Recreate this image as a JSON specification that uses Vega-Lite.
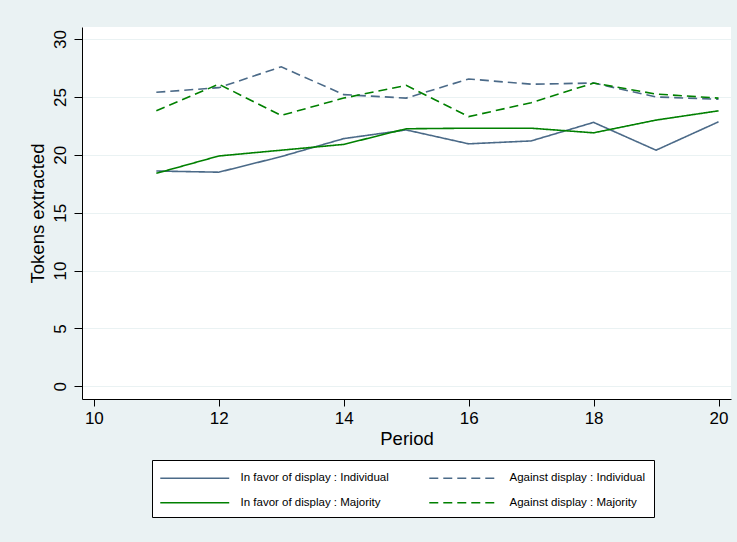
{
  "$schema": "https://vega.github.io/schema/vega-lite/v6.json",
  "width": 649,
  "height": 372,
  "autosize": {"type": "none"},
  "padding": {"left": 82, "top": 27, "right": 6, "bottom": 143},
  "background": "#EAF2F3",
  "config": {
    "view": {"stroke": null, "fill": "white"},
    "font": "Liberation Sans",
    "axis": {
      "domainColor": "#000000",
      "domainWidth": 1,
      "tickColor": "#000000",
      "tickSize": 7,
      "tickWidth": 1,
      "labelColor": "#000000",
      "titleColor": "#000000",
      "labelFont": "Liberation Sans",
      "titleFont": "Liberation Sans",
      "labelFontSize": 17,
      "titleFontSize": 18.5,
      "titleFontWeight": "normal",
      "gridColor": "#EAF2F3",
      "gridWidth": 1.2
    }
  },
  "data": {
    "values": [
      {"period": 11, "series": "In favor of display : Individual", "tokens": 18.6},
      {"period": 12, "series": "In favor of display : Individual", "tokens": 18.5},
      {"period": 13, "series": "In favor of display : Individual", "tokens": 19.85},
      {"period": 14, "series": "In favor of display : Individual", "tokens": 21.4},
      {"period": 15, "series": "In favor of display : Individual", "tokens": 22.15},
      {"period": 16, "series": "In favor of display : Individual", "tokens": 20.95},
      {"period": 17, "series": "In favor of display : Individual", "tokens": 21.2},
      {"period": 18, "series": "In favor of display : Individual", "tokens": 22.8},
      {"period": 19, "series": "In favor of display : Individual", "tokens": 20.4},
      {"period": 20, "series": "In favor of display : Individual", "tokens": 22.85},

      {"period": 11, "series": "In favor of display : Majority", "tokens": 18.4},
      {"period": 12, "series": "In favor of display : Majority", "tokens": 19.9},
      {"period": 13, "series": "In favor of display : Majority", "tokens": 20.4},
      {"period": 14, "series": "In favor of display : Majority", "tokens": 20.9},
      {"period": 15, "series": "In favor of display : Majority", "tokens": 22.25},
      {"period": 16, "series": "In favor of display : Majority", "tokens": 22.3},
      {"period": 17, "series": "In favor of display : Majority", "tokens": 22.3},
      {"period": 18, "series": "In favor of display : Majority", "tokens": 21.9},
      {"period": 19, "series": "In favor of display : Majority", "tokens": 23.0},
      {"period": 20, "series": "In favor of display : Majority", "tokens": 23.8},

      {"period": 11, "series": "Against display : Individual", "tokens": 25.4},
      {"period": 12, "series": "Against display : Individual", "tokens": 25.8},
      {"period": 13, "series": "Against display : Individual", "tokens": 27.6},
      {"period": 14, "series": "Against display : Individual", "tokens": 25.2},
      {"period": 15, "series": "Against display : Individual", "tokens": 24.9},
      {"period": 16, "series": "Against display : Individual", "tokens": 26.55},
      {"period": 17, "series": "Against display : Individual", "tokens": 26.1},
      {"period": 18, "series": "Against display : Individual", "tokens": 26.2},
      {"period": 19, "series": "Against display : Individual", "tokens": 25.0},
      {"period": 20, "series": "Against display : Individual", "tokens": 24.8},

      {"period": 11, "series": "Against display : Majority", "tokens": 23.8},
      {"period": 12, "series": "Against display : Majority", "tokens": 26.1},
      {"period": 13, "series": "Against display : Majority", "tokens": 23.4},
      {"period": 14, "series": "Against display : Majority", "tokens": 24.9},
      {"period": 15, "series": "Against display : Majority", "tokens": 26.0},
      {"period": 16, "series": "Against display : Majority", "tokens": 23.3},
      {"period": 17, "series": "Against display : Majority", "tokens": 24.5},
      {"period": 18, "series": "Against display : Majority", "tokens": 26.2},
      {"period": 19, "series": "Against display : Majority", "tokens": 25.25},
      {"period": 20, "series": "Against display : Majority", "tokens": 24.9}
    ]
  },
  "mark": {"type": "line", "strokeWidth": 1.6},
  "encoding": {
    "x": {
      "field": "period",
      "type": "quantitative",
      "scale": {"domain": [9.81, 20.2], "nice": false, "zero": false},
      "axis": {
        "values": [10, 12, 14, 16, 18, 20],
        "title": "Period",
        "grid": false,
        "labelPadding": 4,
        "titlePadding": 3
      }
    },
    "y": {
      "field": "tokens",
      "type": "quantitative",
      "scale": {"domain": [-1.09, 31.04], "nice": false, "zero": false},
      "axis": {
        "values": [0, 5, 10, 15, 20, 25, 30],
        "title": "Tokens extracted",
        "grid": true,
        "tickSize": 8,
        "labelAngle": 270,
        "labelAlign": "center",
        "labelBaseline": "bottom",
        "labelPadding": 5,
        "titlePadding": 4
      }
    },
    "color": {
      "field": "series",
      "type": "nominal",
      "sort": ["In favor of display : Individual", "Against display : Individual", "In favor of display : Majority", "Against display : Majority"],
      "scale": {
        "domain": ["In favor of display : Individual", "Against display : Individual", "In favor of display : Majority", "Against display : Majority"],
        "range": ["#4b6a88", "#4b6a88", "#008000", "#008000"]
      },
      "legend": {
        "title": null,
        "orient": "none",
        "legendX": 70,
        "legendY": 433,
        "columns": 2,
        "direction": "horizontal",
        "symbolType": "M-1.08,0H6.58",
        "symbolSize": 324,
        "symbolStrokeWidth": 1.5,
        "labelFontSize": 11.5,
        "labelFont": "Liberation Sans",
        "labelColor": "#000000",
        "labelOffset": 60.5,
        "fillColor": "white",
        "strokeColor": "#000000",
        "padding": 8,
        "columnPadding": 37,
        "rowPadding": 8.7
      }
    },
    "strokeDash": {
      "field": "series",
      "type": "nominal",
      "sort": ["In favor of display : Individual", "Against display : Individual", "In favor of display : Majority", "Against display : Majority"],
      "scale": {
        "domain": ["In favor of display : Individual", "Against display : Individual", "In favor of display : Majority", "Against display : Majority"],
        "range": [[1, 0], [9, 5], [1, 0], [9, 5]]
      }
    }
  }
}
